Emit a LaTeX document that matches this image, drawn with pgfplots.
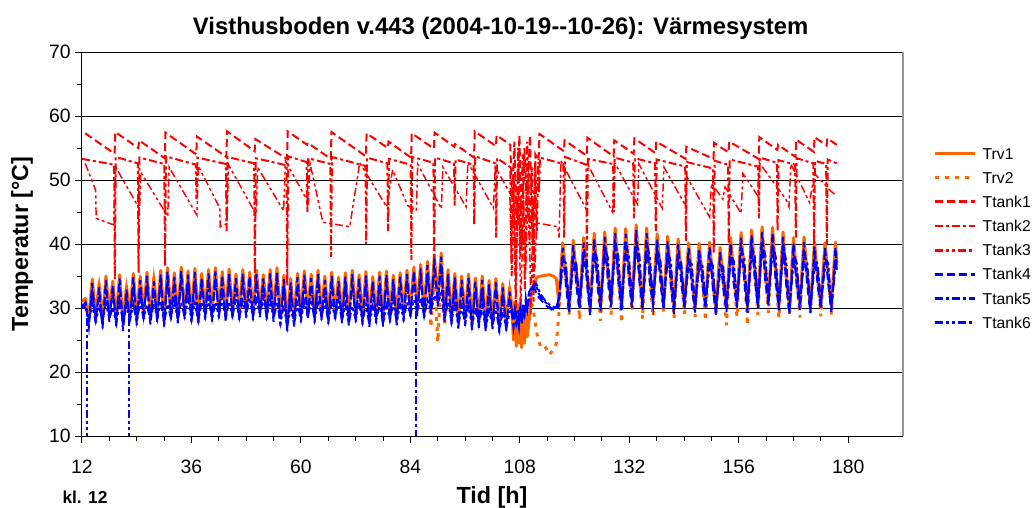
\documentclass[border=0pt]{standalone}
\usepackage{pgfplots}
\pgfplotsset{compat=1.18}
\usepackage{pgfplotstable}
\usepackage{fontspec}
\setmainfont{Liberation Sans}
\definecolor{xlorange}{RGB}{255,102,0}
\definecolor{xlred}{RGB}{255,0,0}
\definecolor{xlblue}{RGB}{0,0,255}
\definecolor{xlgray}{RGB}{150,150,150}

% x  Trv1  Trv2  Ttank4  Ttank5  Ttank6
\pgfplotstableread{
x a b c d e
12.00 31.0 31.2 30.0 30.6 30.2
12.75 31.5 31.0 30.8 30.0 30.8
13.50 28.2 28.6 27.0 28.0 28.3
14.25 34.5 34.0 33.9 32.5 30.4
15.00 28.8 29.1 27.6 28.6 27.9
15.75 33.8 33.3 33.2 31.8 30.2
16.50 28.0 28.3 26.8 27.8 28.1
17.25 35.0 34.5 34.4 33.0 30.7
18.00 29.0 29.3 27.8 28.8 28.4
18.75 34.2 33.7 33.6 32.2 30.1
19.50 28.4 28.7 27.2 28.2 27.6
20.25 35.2 34.7 34.6 33.2 30.9
21.00 27.6 27.9 26.4 27.4 27.9
21.75 33.5 33.0 32.9 31.5 30.3
22.50 28.9 29.2 27.7 28.7 28.2
23.25 35.4 34.9 34.8 33.4 30.6
24.00 28.5 28.8 27.3 28.3 27.8
24.75 35.0 34.5 34.4 33.0 31.0
25.50 29.2 29.5 28.0 29.0 28.4
26.25 35.6 35.1 35.0 33.6 30.5
27.00 28.6 28.9 27.4 28.4 28.0
27.75 34.8 34.3 34.2 32.8 30.8
28.50 29.0 29.3 27.8 28.8 28.3
29.25 35.9 35.4 35.3 33.9 31.1
30.00 28.3 28.6 27.1 28.1 27.7
30.75 36.3 35.8 35.7 34.3 30.6
31.50 29.3 29.6 28.1 29.1 28.5
32.25 35.5 35.0 34.9 33.5 31.2
33.00 28.8 29.1 27.6 28.6 28.1
33.75 36.4 35.9 35.8 34.4 30.9
34.50 29.5 29.8 28.3 29.3 28.6
35.25 35.8 35.3 35.2 33.8 31.3
36.00 29.0 29.3 27.8 28.8 28.2
36.75 36.2 35.7 35.6 34.2 30.8
37.50 28.6 28.9 27.4 28.4 28.0
38.25 35.4 34.9 34.8 33.4 31.0
39.00 29.4 29.7 28.2 29.2 28.7
39.75 36.0 35.5 35.4 34.0 31.4
40.50 29.1 29.4 27.9 28.9 28.3
41.25 36.3 35.8 35.7 34.3 30.9
42.00 29.6 29.9 28.4 29.4 28.8
42.75 35.7 35.2 35.1 33.7 31.5
43.50 29.0 29.3 27.8 28.8 28.4
44.25 36.1 35.6 35.5 34.1 31.0
45.00 29.5 29.8 28.3 29.3 28.9
45.75 35.3 34.8 34.7 33.3 31.4
46.50 29.2 29.5 28.0 29.0 28.5
47.25 36.0 35.5 35.4 34.0 31.1
48.00 29.7 30.0 28.5 29.5 29.0
48.75 35.6 35.1 35.0 33.6 31.6
49.50 29.3 29.6 28.1 29.1 28.6
50.25 35.9 35.4 35.3 33.9 31.2
51.00 29.8 30.1 28.6 29.6 29.1
51.75 35.2 34.7 34.6 33.2 31.5
52.50 29.4 29.7 28.2 29.2 28.7
53.25 36.0 35.5 35.4 34.0 31.3
54.00 29.0 29.3 27.8 28.8 28.3
54.75 36.3 35.8 35.7 34.3 30.9
55.50 28.4 28.7 27.2 28.2 27.6
56.25 35.1 34.6 34.5 33.1 30.4
57.00 27.6 27.9 26.4 27.4 27.0
57.75 34.6 34.1 34.0 32.6 30.1
58.50 28.3 28.6 27.1 28.1 27.5
59.25 35.4 34.9 34.8 33.4 30.6
60.00 29.0 29.3 27.8 28.8 28.2
60.75 35.8 35.3 35.2 33.8 31.0
61.50 29.4 29.7 28.2 29.2 28.7
62.25 35.3 34.8 34.7 33.3 31.2
63.00 28.9 29.2 27.7 28.7 28.2
63.75 35.9 35.4 35.3 33.9 30.8
64.50 29.3 29.6 28.1 29.1 28.6
65.25 35.0 34.5 34.4 33.0 31.1
66.00 28.7 29.0 27.5 28.5 28.0
66.75 35.6 35.1 35.0 33.6 30.7
67.50 29.2 29.5 28.0 29.0 28.5
68.25 34.8 34.3 34.2 32.8 31.0
69.00 28.8 29.1 27.6 28.6 28.1
69.75 35.5 35.0 34.9 33.5 30.6
70.50 28.4 28.7 27.2 28.2 27.7
71.25 35.9 35.4 35.3 33.9 30.3
72.00 29.0 29.3 27.8 28.8 28.2
72.75 35.2 34.7 34.6 33.2 30.8
73.50 28.6 28.9 27.4 28.4 27.9
74.25 35.7 35.2 35.1 33.7 30.5
75.00 28.2 28.5 27.0 28.0 27.5
75.75 34.9 34.4 34.3 32.9 30.2
76.50 28.8 29.1 27.6 28.6 28.1
77.25 35.6 35.1 35.0 33.6 30.7
78.00 28.3 28.6 27.1 28.1 27.6
78.75 35.8 35.3 35.2 33.8 30.4
79.50 28.9 29.2 27.7 28.7 28.2
80.25 35.1 34.6 34.5 33.1 30.8
81.00 28.5 28.8 27.3 28.3 27.8
81.75 35.5 35.0 34.9 33.5 30.5
82.50 29.1 29.4 27.9 28.9 28.4
83.25 35.9 35.4 35.3 33.9 30.9
84.00 29.6 29.9 28.4 29.4 28.9
84.75 36.4 35.9 35.8 34.4 31.3
85.50 30.0 30.3 28.8 29.8 29.3
86.25 36.8 36.3 36.2 34.8 31.6
87.00 29.4 29.7 28.2 29.2 28.7
87.75 37.3 36.8 36.7 35.3 31.2
88.50 30.2 27.0 29.0 30.0 29.5
89.25 38.3 35.0 37.7 36.3 32.0
90.00 31.5 24.7 30.3 31.3 30.8
90.75 38.6 35.5 38.0 36.6 32.3
91.50 29.0 27.2 27.8 28.8 28.3
92.25 36.0 35.0 35.4 34.0 31.0
93.00 28.6 28.9 27.4 28.4 27.9
93.75 35.4 34.9 34.8 33.4 30.6
94.50 28.0 28.3 26.8 27.8 27.3
95.25 35.0 34.5 34.4 33.0 30.2
96.00 28.4 28.7 27.2 28.2 27.7
96.75 35.3 34.8 34.7 33.3 30.4
97.50 27.8 28.1 26.6 27.6 27.1
98.25 34.7 34.2 34.1 32.7 29.9
99.00 28.1 28.4 26.9 27.9 27.4
99.75 35.0 34.5 34.4 33.0 30.2
100.50 27.5 27.8 26.3 27.3 26.8
101.25 34.3 33.8 33.7 32.3 29.6
102.00 27.9 28.2 26.7 27.7 27.2
102.75 34.6 34.1 34.0 32.6 29.8
103.50 27.3 27.6 26.1 27.1 26.6
104.25 33.8 33.3 33.2 31.8 29.4
105.00 27.6 27.9 26.4 27.4 26.9
105.75 33.2 32.7 32.6 31.2 29.2
106.20 30.5 30.0 29.5 29.8 30.0
106.60 25.0 26.0 27.0 28.0 29.0
106.90 31.0 30.5 29.0 29.5 30.0
107.20 24.0 25.0 27.5 28.2 29.2
107.50 30.5 30.0 28.5 29.0 29.8
107.80 24.5 25.5 27.0 27.8 28.8
108.10 31.5 31.0 29.5 29.8 30.2
108.40 23.8 24.5 27.5 28.0 28.6
108.70 30.0 29.5 30.5 29.5 30.0
109.00 24.5 25.0 28.5 28.8 29.5
109.30 29.0 28.5 31.5 30.5 31.0
109.60 25.5 26.0 30.0 29.5 30.2
110.00 28.0 27.5 32.5 31.5 32.0
110.50 32.0 31.0 33.0 32.5 33.0
111.00 33.3 29.5 33.5 33.0 33.5
111.50 34.5 27.0 32.5 33.8 34.0
112.00 34.9 25.0 31.8 32.5 33.0
112.70 35.0 23.8 31.2 31.5 32.0
113.50 35.1 24.0 30.5 31.0 31.2
114.50 35.2 22.7 30.0 30.2 30.5
115.30 35.0 23.5 29.6 29.8 30.2
116.00 34.6 24.5 30.2 30.5 30.0
116.5 31.0 28.5 30.0 30.6 31.4
117.4 40.2 39.8 39.4 37.7 36.2
118.1 35.2 34.6 33.6 37.0 35.8
118.8 30.2 29.0 29.2 29.8 30.6
119.7 40.6 40.2 39.8 38.1 36.6
120.4 34.8 34.3 33.3 36.8 36.0
121.1 30.8 28.2 29.8 30.4 31.2
122.0 41.0 40.6 40.2 38.5 37.0
122.7 35.5 35.0 34.0 37.3 36.2
123.4 29.9 29.4 28.9 29.5 30.3
124.3 41.7 41.3 40.9 39.2 37.7
125.0 35.1 34.6 33.6 37.5 35.9
125.7 30.5 28.0 29.5 30.1 30.9
126.6 41.9 41.5 41.1 39.4 37.9
127.3 35.8 35.3 34.3 37.8 36.4
128.0 31.2 28.9 30.2 30.8 31.6
128.9 42.5 42.1 41.7 40.0 38.5
129.6 35.4 34.9 33.9 38.0 36.1
130.3 30.4 27.7 29.4 30.0 30.8
131.2 42.4 42.0 41.6 39.9 38.4
131.9 36.0 35.5 34.5 38.2 36.6
132.6 31.0 29.5 30.0 30.6 31.4
133.5 43.0 42.6 42.2 40.5 39.0
134.2 35.6 35.1 34.1 38.4 36.3
134.9 30.6 28.3 29.6 30.2 31.0
135.8 42.5 42.1 41.7 40.0 38.5
136.5 35.3 34.8 33.8 37.9 36.0
137.2 31.3 28.7 30.3 30.9 31.7
138.1 41.6 41.2 40.8 39.1 37.6
138.8 35.7 35.2 34.2 37.6 36.4
139.5 30.7 29.2 29.7 30.3 31.1
140.4 41.2 40.8 40.4 38.7 37.2
141.1 35.0 34.5 33.5 37.2 35.8
141.8 30.1 28.4 29.1 29.7 30.5
142.7 40.8 40.4 40.0 38.3 36.8
143.4 35.4 34.9 33.9 37.0 36.1
144.1 30.8 29.0 29.8 30.4 31.2
145.0 40.2 39.8 39.4 37.7 36.2
145.7 34.9 34.4 33.4 36.8 35.7
146.4 30.3 28.6 29.3 29.9 30.7
147.3 40.1 39.7 39.3 37.6 36.1
148.0 35.2 34.7 33.7 36.9 35.9
148.7 30.9 28.0 29.9 30.5 31.3
149.6 40.3 39.9 39.5 37.8 36.3
150.3 34.7 34.2 33.2 36.6 35.5
151.0 29.8 29.1 28.8 29.4 30.2
151.9 39.5 39.1 38.7 37.0 35.5
152.6 34.5 34.0 33.0 36.4 35.3
153.3 30.4 27.3 29.4 30.0 30.8
154.2 41.0 40.6 40.2 38.5 37.0
154.9 35.3 34.8 33.8 37.3 36.0
155.6 31.0 28.6 30.0 30.6 31.4
156.5 41.8 41.4 41.0 39.3 37.8
157.2 35.7 35.2 34.2 37.7 36.3
157.9 30.2 27.3 29.2 29.8 30.6
158.8 42.2 41.8 41.4 39.7 38.2
159.5 36.0 35.5 34.5 38.0 36.5
160.2 30.9 28.9 29.9 30.5 31.3
161.1 42.7 42.3 41.9 40.2 38.7
161.8 35.8 35.3 34.3 38.3 36.4
162.5 31.4 29.2 30.4 31.0 31.8
163.4 42.6 42.2 41.8 40.1 38.6
164.1 35.5 35.0 34.0 37.9 36.2
164.8 30.6 28.4 29.6 30.2 31.0
165.7 41.9 41.5 41.1 39.4 37.9
166.4 35.1 34.6 33.6 37.4 35.8
167.1 30.0 29.0 29.0 29.6 30.4
168.0 41.0 40.6 40.2 38.5 37.0
168.7 34.8 34.3 33.3 37.0 35.6
169.4 30.7 28.5 29.7 30.3 31.1
170.3 41.1 40.7 40.3 38.6 37.1
171.0 35.2 34.7 33.7 37.1 35.9
171.7 30.2 29.3 29.2 29.8 30.6
172.6 40.3 39.9 39.5 37.8 36.3
173.3 34.9 34.4 33.4 36.8 35.6
174.0 30.8 28.7 29.8 30.4 31.2
174.9 40.2 39.8 39.4 37.7 36.2
175.6 35.3 34.8 33.8 37.0 36.0
176.3 30.4 29.0 29.4 30.0 30.8
177.2 40.3 39.9 39.5 37.8 36.3
177.5 37.0 36.5 35.5 37.2 36.5
}\lowtable

\begin{document}
\begin{tikzpicture}
\useasboundingbox (-61.5pt,-53.25pt) rectangle (714pt,327pt);
\begin{axis}[
  at={(0,0)}, anchor=south west,
  scale only axis, width=615.75pt, height=288pt,
  xmin=12, xmax=192, ymin=10, ymax=70,
  xtick={12,36,...,180}, ytick={10,20,...,70},
  minor x tick num=3, minor y tick num=1,
  tick align=outside, major tick length=5pt, minor tick length=3.5pt,
  axis x line*=bottom, axis y line*=left,
  axis line style={black, line width=0.75pt, -},
  ymajorgrids, grid style={black, line width=0.75pt},
  tick style={black, line width=0.75pt},
  ticklabel style={font=\fontsize{14.5}{16}\selectfont},
  xticklabel style={anchor=base, yshift=-23pt},
  /pgf/number format/assume math mode=true,
  clip mode=individual,
  xlabel={Tid [h]},
  xlabel style={at={(axis description cs:0.4994,-0.1745)}, anchor=base, font=\bfseries\fontsize{17.5}{20}\selectfont},
  ylabel={Temperatur [°C]},
  ylabel style={at={(axis description cs:-0.0731,0.5)}, anchor=center, font=\bfseries\fontsize{17.5}{20}\selectfont},
  legend cell align=left,
  legend image code/.code={\draw[#1, line width=2.1pt] (0pt,0pt) -- (30pt,0pt);},
  legend style={at={(axis description cs:1.0365,0.7508)}, anchor=north west, draw=none, fill=none, inner sep=0pt,
     font=\fontsize{11.8}{13}\selectfont, row sep=9.6pt,
     nodes={inner sep=0pt, text height=8.5pt, text depth=0pt},
     /tikz/every odd column/.append style={column sep=5pt}},
]
\addplot[xlorange, line width=2.2pt, line join=round] table[x=x,y=a] {\lowtable};
\addlegendentry{Trv1}
\addplot[xlorange, line width=2.2pt, dash pattern=on 3pt off 4.5pt] table[x=x,y=b] {\lowtable};
\addlegendentry{Trv2}
\addplot[xlred, line width=1.5pt, dash pattern=on 6pt off 3pt] coordinates {
(12.7,57.3) (19.15,54.1) (19.3,57.5) (24.35,55.0) (24.5,56.2) (30.15,53.4) (30.3,57.4) (37.05,54.0) (37.2,56.8) (43.65,53.6) (43.8,57.6) (49.85,54.5) (50.0,56.4) (56.95,53.3) (57.1,57.6) (61.35,55.5) (61.5,55.8) (66.55,53.3) (66.7,57.5) (74.25,53.7) (74.4,57.3) (79.05,55.0) (79.2,56.0) (84.15,53.5) (84.3,57.3) (89.15,54.9) (89.3,57.4) (93.65,55.2) (93.8,55.6) (97.95,53.5) (98.1,57.6) (102.75,55.3) (102.9,57.0) (105.9,55.5) (106.3,47) (106.8,56) (107.3,42) (107.9,57) (108.4,39) (109.0,55) (109.6,45) (110.2,57) (110.8,40) (111.4,54) (112.1,53.0) (112.3,57.2) (117.65,54.5) (117.8,56.2) (122.65,53.8) (122.8,56.6) (128.55,53.7) (128.7,56.2) (132.95,54.1) (133.1,56.5) (137.75,54.2) (137.9,56.0) (144.35,53.3) (144.5,55.2) (150.45,53.3) (150.6,55.8) (153.75,54.3) (153.9,56.0) (160.35,53.3) (160.5,56.7) (164.45,54.7) (164.6,55.5) (168.45,53.6) (168.6,56.3) (172.45,54.4) (172.6,56.7) (175.25,55.4) (175.4,56.5) (177.5,55.5)
};
\addlegendentry{Ttank1}
\addplot[xlred, line width=1.5pt, dash pattern=on 6pt off 2.25pt on 2.25pt off 2.25pt] coordinates {
(12.0,53.3) (19.05,52.4) (19.2,34.5) (19.4,53.6) (24.25,52.6) (24.4,35.5) (24.6,53.5) (30.05,52.5) (30.2,36.5) (30.4,53.7) (36.95,52.4) (37.1,47.0) (37.3,53.5) (43.55,52.5) (43.7,42.0) (43.9,53.6) (49.75,52.6) (49.9,34.0) (50.1,53.4) (56.85,52.3) (57.0,33.5) (57.2,53.7) (61.25,52.8) (61.4,45.0) (61.6,53.4) (66.45,52.5) (66.6,38.0) (66.8,53.6) (74.15,52.2) (74.3,40.0) (74.5,53.5) (78.95,52.6) (79.1,42.0) (79.3,53.3) (84.05,52.4) (84.2,37.5) (84.4,53.6) (89.05,52.7) (89.2,36.0) (89.4,53.5) (93.55,52.6) (93.7,46.0) (93.9,53.2) (97.85,52.4) (98.0,43.0) (98.2,53.7) (102.65,52.6) (102.8,41.0) (103.0,53.4) (105.9,52.0) (106.2,35) (106.7,50) (107.1,30) (107.6,55) (108.1,38) (108.6,54) (109.1,33) (109.6,56) (110.1,40) (110.6,52) (111.0,31) (111.4,53) (111.7,42) (112.05,52.8) (112.2,48.0) (112.4,53.5) (117.55,52.5) (117.7,41.0) (117.9,53.6) (122.55,52.4) (122.7,37.0) (122.9,53.3) (128.45,52.5) (128.6,45.0) (128.8,53.5) (132.85,52.7) (133.0,44.0) (133.2,53.4) (137.65,52.6) (137.8,42.0) (138.0,53.2) (144.25,52.1) (144.4,40.5) (144.6,52.8) (150.35,51.8) (150.5,38.5) (150.7,53.0) (153.65,52.4) (153.8,40.0) (154.0,53.2) (160.25,52.1) (160.4,44.0) (160.6,53.5) (164.35,52.7) (164.5,42.0) (164.7,53.1) (168.35,52.4) (168.5,41.0) (168.7,53.4) (172.35,52.6) (172.5,38.5) (172.7,53.0) (175.15,52.5) (175.3,40.0) (175.5,53.2) (177.5,52.6)
};
\addlegendentry{Ttank2}
\addplot[xlred, line width=1.1pt, dash pattern=on 6pt off 2.25pt on 2.25pt off 2.25pt on 2.25pt off 2.25pt] coordinates {
(12.7,52.6) (15.0,48.4) (15.1,44.0) (18.9,43.0) (19.4,52.0) (24.6,45.5) (24.9,51.2) (30.8,44.3) (31.1,52.0) (37.2,44.5) (37.5,52.2) (42.2,45.6) (42.3,42.7) (43.8,43.2) (44.1,52.4) (50.2,44.6) (50.5,52.0) (56.2,45.2) (56.6,53.0) (61.6,46.5) (62.0,52.6) (64.8,43.4) (70.7,42.7) (72.9,52.7) (78.8,45.8) (80.1,51.6) (83.4,46.0) (85.3,45.2) (85.6,52.5) (90.8,45.5) (91.1,52.0) (96.2,45.8) (96.6,52.8) (102.2,45.6) (102.6,52.0) (105.8,48.0) (106.1,38) (106.6,51) (107.1,33) (107.7,49) (108.2,30) (108.8,47) (109.3,36) (109.9,52) (110.4,29) (110.9,47) (111.3,36) (111.7,43.3) (116.3,42.7) (116.6,41.0) (117.0,53.0) (122.5,45.5) (122.9,52.4) (128.3,45.0) (128.7,52.8) (133.8,46.2) (134.1,52.5) (139.2,45.6) (139.6,52.0) (144.3,46.0) (144.6,50.5) (149.6,44.2) (150.0,49.5) (152.5,47.0) (153.0,48.9) (156.5,44.8) (156.9,51.0) (160.2,47.5) (160.5,52.7) (166.4,46.9) (167.0,45.8) (167.4,52.5) (171.5,46.5) (172.6,51.0) (176.0,48.4) (177.4,47.5)
};
\addlegendentry{Ttank3}
\addplot[xlblue, line width=1.5pt, dash pattern=on 6pt off 3pt] table[x=x,y=c] {\lowtable};
\addlegendentry{Ttank4}
\addplot[xlblue, line width=1.5pt, dash pattern=on 6pt off 2.25pt on 2.25pt off 2.25pt] table[x=x,y=d] {\lowtable};
\addlegendentry{Ttank5}
\addplot[xlblue, line width=1.5pt, dash pattern=on 6pt off 2.25pt on 2.25pt off 2.25pt on 2.25pt off 2.25pt] table[x=x,y=e] {\lowtable};
\addlegendentry{Ttank6}
\addplot[xlblue, line width=1.5pt, dash pattern=on 6pt off 2.25pt on 2.25pt off 2.25pt on 2.25pt off 2.25pt, forget plot] coordinates {(13.1,28.5) (13.1,10)};
\addplot[xlblue, line width=1.5pt, dash pattern=on 6pt off 2.25pt on 2.25pt off 2.25pt on 2.25pt off 2.25pt, forget plot] coordinates {(22.3,28.4) (22.3,10)};
\addplot[xlblue, line width=1.5pt, dash pattern=on 6pt off 2.25pt on 2.25pt off 2.25pt, forget plot] coordinates {(85.2,29.6) (85.2,10)};
\draw[xlgray, line width=1.5pt] (rel axis cs:1,0) -- (rel axis cs:1,1);
\node[font=\bfseries\fontsize{17.9}{20}\selectfont, anchor=base] at (axis description cs:0.510,1.0443) {Visthusboden v.443 (2004-10-19-{}-10-26): Värmesystem};
\node[font=\bfseries\fontsize{13}{15}\selectfont, anchor=base] at (axis description cs:0.0037,-0.1745) {kl. 12};
\end{axis}
\end{tikzpicture}
\end{document}
